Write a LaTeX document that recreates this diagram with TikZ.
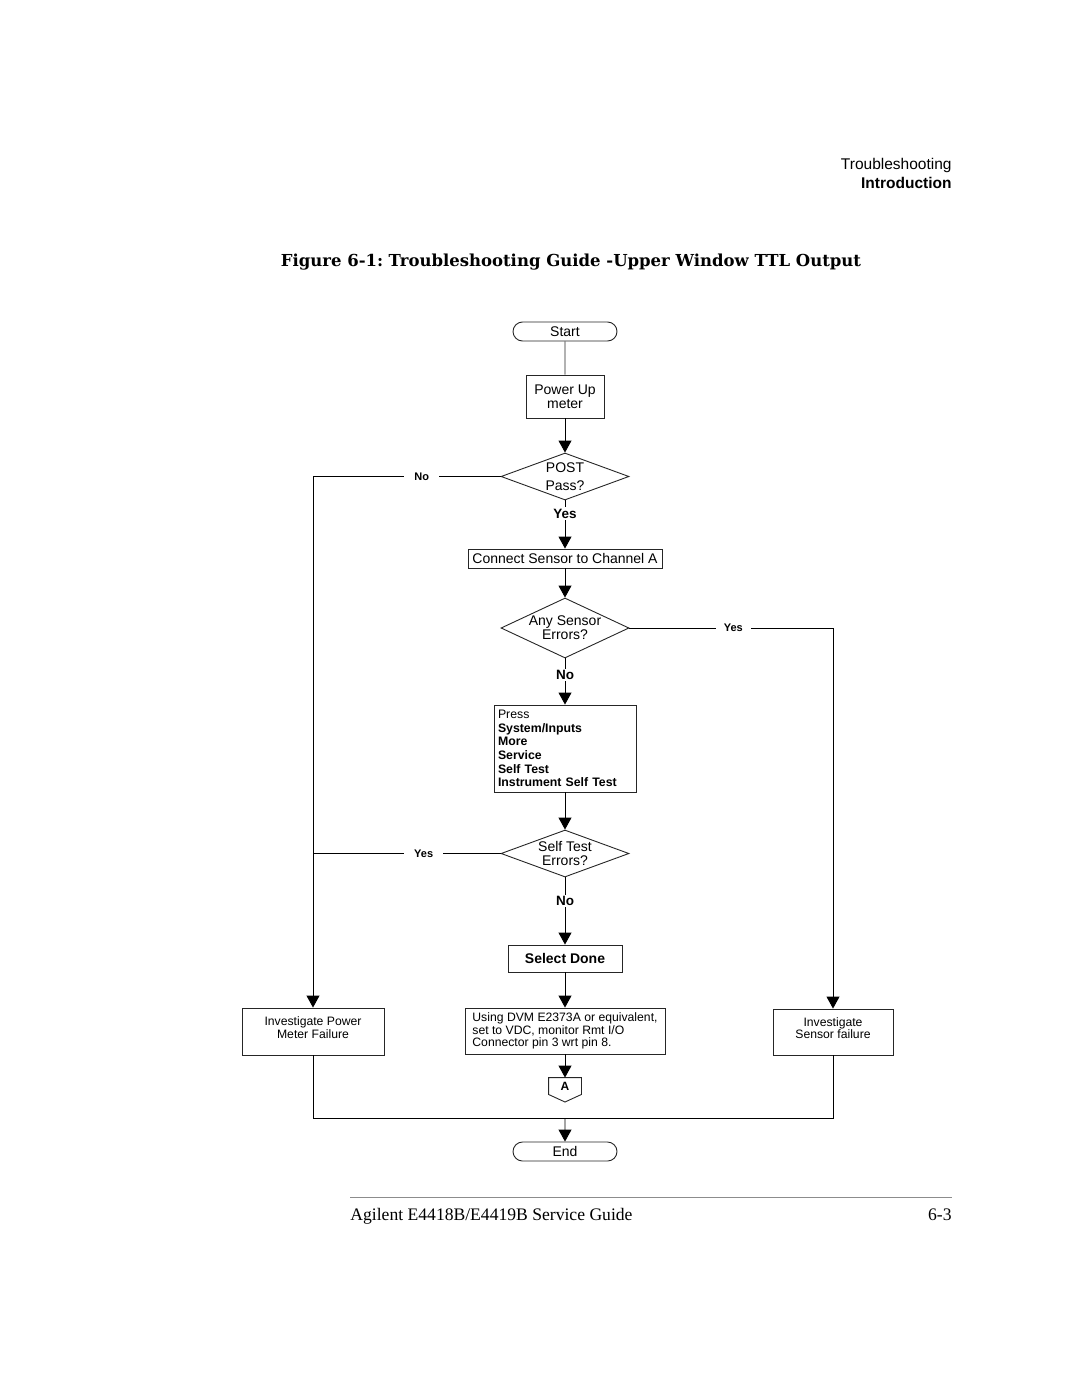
\documentclass[tikz,border=0pt]{standalone}
\usepackage{fontspec}
\setmainfont{Liberation Sans}
\newfontfamily\titlefont{DejaVu Serif}
\newfontfamily\footfont{Liberation Serif}
\usetikzlibrary{shapes.geometric,shapes.misc,arrows.meta}

\newcommand{\fs}[1]{\fontsize{#1}{#1}\selectfont}

\begin{document}
\begin{tikzpicture}[x=1pt, y=-1pt, line width=0.9pt,
  every node/.style={draw=black!85, align=center, font=\fs{14}, inner sep=2pt},
  term/.style={rounded rectangle, minimum width=108pt, minimum height=19pt},
  box/.style={rectangle},
  decision/.style={diamond, minimum width=128pt, minimum height=47pt, aspect=2.7, inner sep=0pt},
  lbl/.style={draw=none, fill=white, font=\fs{11}\bfseries, inner xsep=10pt, inner ysep=1pt},
  lblbig/.style={draw=none, fill=white, font=\fs{13.5}\bfseries, inner xsep=2pt, inner ysep=1.5pt},
  plain/.style={draw=none, inner sep=0pt}]

\useasboundingbox (0,0) rectangle (1080,1397);

% page header and title
\node[plain, anchor=base east, font=\fs{15.5}] (hdr) at (952,169.5) {Troubleshooting};
\node[plain, anchor=base east, font=\fs{15.5}\bfseries] (intro) at (952,188.5) {Introduction};
\node[plain, anchor=base, font=\titlefont\fs{16.5}\bfseries] (title) at (571,266)
  {Figure 6-1:\,\,Troubleshooting Guide -Upper Window TTL Output};

% flow chart
\node[term] (start) at (565,331.5) {Start};
\node[box, minimum width=78pt, minimum height=43pt] (power) at (565,396.5) {Power Up\\meter};
\node[decision] (post) at (565,476.5) {POST\\[4pt]Pass?};
\node[box, minimum width=194pt, minimum height=19pt, inner sep=1pt] (connect) at (565,558.5) {Connect Sensor to Channel A};
\node[decision, minimum height=60pt, aspect=2.13] (anysensor) at (565,628) {Any Sensor\\Errors?};
\node[box, minimum width=142pt, minimum height=87pt, text width=134pt, inner sep=4pt, align=left,
  font=\fontsize{12.3}{13.6}\selectfont] (press) at (565,748.5)
  {Press\\\textbf{System/Inputs}\\\textbf{More}\\\textbf{Service}\\\textbf{Self Test}\\\textbf{Instrument Self Test}};
\node[decision] (selftest) at (565,853.5) {Self Test\\Errors?};
\node[box, minimum width=114pt, minimum height=27pt, font=\fs{14}\bfseries] (done) at (565,958.5) {Select Done};
\node[box, minimum width=200pt, minimum height=46pt, align=left, font=\fontsize{12.2}{12.2}\selectfont] (dvm) at (565,1031)
  {Using DVM E2373A or equivalent,\\set to VDC, monitor Rmt I/O\\Connector pin 3 wrt pin 8.};
\node[plain, minimum width=32pt, minimum height=16pt, font=\fs{12}\bfseries] (A) at (565,1086) {A};
\draw[black!85] (A.north west) -- (A.north east) -- (A.south east) -- (565,1102) -- (A.south west) -- cycle;
\node[box, minimum width=142pt, minimum height=47pt, font=\fontsize{12.2}{13}\selectfont] (invpower) at (313,1031.5) {Investigate Power\\Meter Failure\\[-5pt]};
\node[box, minimum width=120pt, minimum height=46pt, font=\fontsize{12.2}{12.5}\selectfont] (invsensor) at (833,1032) {Investigate\\Sensor failure\\[-5pt]};
\node[term] (end) at (565,1151.5) {End};

\coordinate (nocorner) at (313,476.5);
\coordinate (yescorner) at (833,628);
\coordinate (stcorner) at (313,853.5);
\coordinate (botleft) at (313,1118);
\coordinate (botright) at (833,1118);
\coordinate (join) at (565,1118);

\draw[black!85] (start) -- (power);
\draw[->, >={Triangle[width=13pt,length=12pt]}] (power) -- (post);
\draw[->, >={Triangle[width=13pt,length=12pt]}] (post.west) -- node[lbl, pos=0.42] {No} (nocorner) -- (invpower.north);
\draw[->, >={Triangle[width=13pt,length=12pt]}] (post.south) -- node[lblbig, pos=0.27] {Yes} (connect.north);
\draw[->, >={Triangle[width=13pt,length=12pt]}] (connect) -- (anysensor);
\draw[->, >={Triangle[width=13pt,length=12pt]}] (anysensor.east) -- node[lbl, pos=0.51, inner xsep=8pt] {Yes} (yescorner) -- (invsensor.north);
\draw[->, >={Triangle[width=13pt,length=12pt]}] (anysensor.south) -- node[lblbig, pos=0.36] {No} (press.north);
\draw[->, >={Triangle[width=13pt,length=12pt]}] (press) -- (selftest);
\draw (selftest.west) -- node[lbl, pos=0.41] {Yes} (stcorner);
\draw[->, >={Triangle[width=13pt,length=12pt]}] (selftest.south) -- node[lblbig, pos=0.35] {No} (done.north);
\draw[->, >={Triangle[width=13pt,length=12pt]}] (done) -- (dvm);
\draw[->, >={Triangle[width=13pt,length=12pt]}] (dvm) -- (A);
\draw (invpower) -- (botleft) -- (botright) -- (invsensor);
\draw[->, >={Triangle[width=13pt,length=12pt]}] (join) -- (end);

% page footer
\draw[black!45, line width=0.8pt] (350,1197) -- (952,1197);
\node[plain, anchor=base west, font=\footfont\fs{17.6}] (guide) at (350,1220) {Agilent E4418B/E4419B Service Guide};
\node[plain, anchor=base east, font=\footfont\fs{17.6}] (page) at (952,1220) {6-3};
\end{tikzpicture}
\end{document}
